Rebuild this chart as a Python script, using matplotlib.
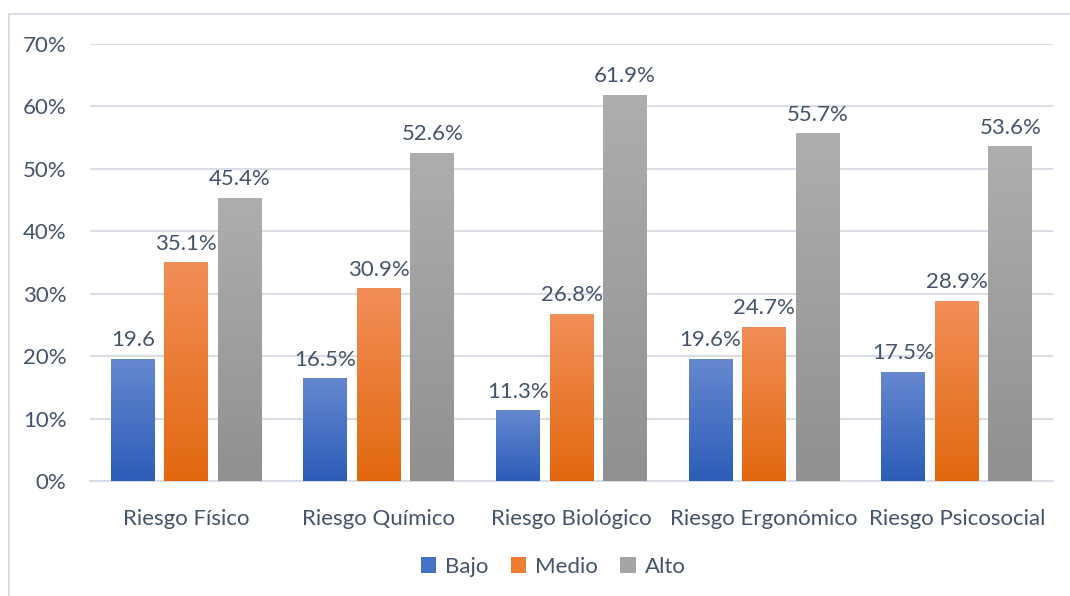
import numpy as np
import matplotlib
matplotlib.use("Agg")
import matplotlib.pyplot as plt
from matplotlib.colors import LinearSegmentedColormap
from matplotlib.patches import Rectangle, Patch

categories = ["Riesgo Físico", "Riesgo Químico", "Riesgo Biológico",
              "Riesgo Ergonómico", "Riesgo Psicosocial"]
series_names = ["Bajo", "Medio", "Alto"]
bajo = [19.6, 16.5, 11.3, 19.6, 17.5]
medio = [35.1, 30.9, 26.8, 24.7, 28.9]
alto = [45.4, 52.6, 61.9, 55.7, 53.6]
bajo_labels = ["19.6", "16.5%", "11.3%", "19.6%", "17.5%"]
medio_labels = ["35.1%", "30.9%", "26.8%", "24.7%", "28.9%"]
alto_labels = ["45.4%", "52.6%", "61.9%", "55.7%", "53.6%"]
y_ticks = [0, 10, 20, 30, 40, 50, 60, 70]

TEXT = "#44546a"
GRID = "#d9dde6"
FS = 16
# (top colour, bottom colour) for each series gradient
gradients = [("#6688cf", "#2c5cb8"), ("#f28e58", "#e2680f"), ("#aeaeae", "#909090")]
solid = ["#4472c4", "#ed7d31", "#a5a5a5"]

plt.rcParams["font.family"] = ["Lato", "DejaVu Sans"]

fig = plt.figure(figsize=(10.7, 5.96), dpi=100)
ax = fig.add_axes([90 / 1070, 1 - 481 / 596, 963 / 1070, 437 / 596])

x = np.arange(len(categories))
width = 0.228
offset = 0.278
values = [bajo, medio, alto]
labels = [bajo_labels, medio_labels, alto_labels]

for i, (vals, labs) in enumerate(zip(values, labels)):
    bars = ax.bar(x + (i - 1) * offset, vals, width, color="none",
                  edgecolor="none", zorder=3)
    cmap = LinearSegmentedColormap.from_list(series_names[i],
                                             [gradients[i][1], gradients[i][0]])
    grad = np.linspace(0, 1, 256).reshape(-1, 1)
    for b, lab in zip(bars, labs):
        x0, w, h = b.get_x(), b.get_width(), b.get_height()
        im = ax.imshow(grad, cmap=cmap, origin="lower", aspect="auto",
                       extent=(x0, x0 + w, 0, h), zorder=3, interpolation="bilinear")
        im.set_clip_path(b)
        ax.annotate(lab, (x0 + w / 2, h), xytext=(0, 6), textcoords="offset points",
                    ha="center", va="bottom", fontsize=FS, color=TEXT, zorder=4)

ax.set_xlim(-0.5, len(categories) - 0.5)
ax.set_ylim(0, 70)
ax.set_yticks(y_ticks)
ax.set_yticklabels([f"{t}%" for t in y_ticks])
ax.set_xticks(x)
ax.set_xticklabels(categories)
ax.yaxis.grid(True, color=GRID, lw=1.5, zorder=0)
ax.set_axisbelow(True)
for s in ["top", "right", "left"]:
    ax.spines[s].set_visible(False)
ax.spines["bottom"].set_color(GRID)
ax.spines["bottom"].set_linewidth(1.5)
ax.tick_params(axis="both", length=0, labelsize=FS, labelcolor=TEXT)
ax.tick_params(axis="y", pad=17)
ax.tick_params(axis="x", pad=20)

handles = [Patch(facecolor=solid[i], edgecolor="none") for i in range(3)]
fig.legend(handles, series_names, loc="center", bbox_to_anchor=(553 / 1070, 1 - 567 / 596),
           ncol=3, frameon=False, fontsize=FS, labelcolor=TEXT,
           handlelength=0.7, handleheight=0.7, handletextpad=0.4, columnspacing=1.0)

# outer chart frame
fig.add_artist(Rectangle((8.5 / 1070, -0.1), 1.2, 1 - 13.5 / 596 + 0.1,
                         transform=fig.transFigure, fill=False,
                         edgecolor=GRID, lw=1.5))

fig.savefig("out.png", dpi=100)
